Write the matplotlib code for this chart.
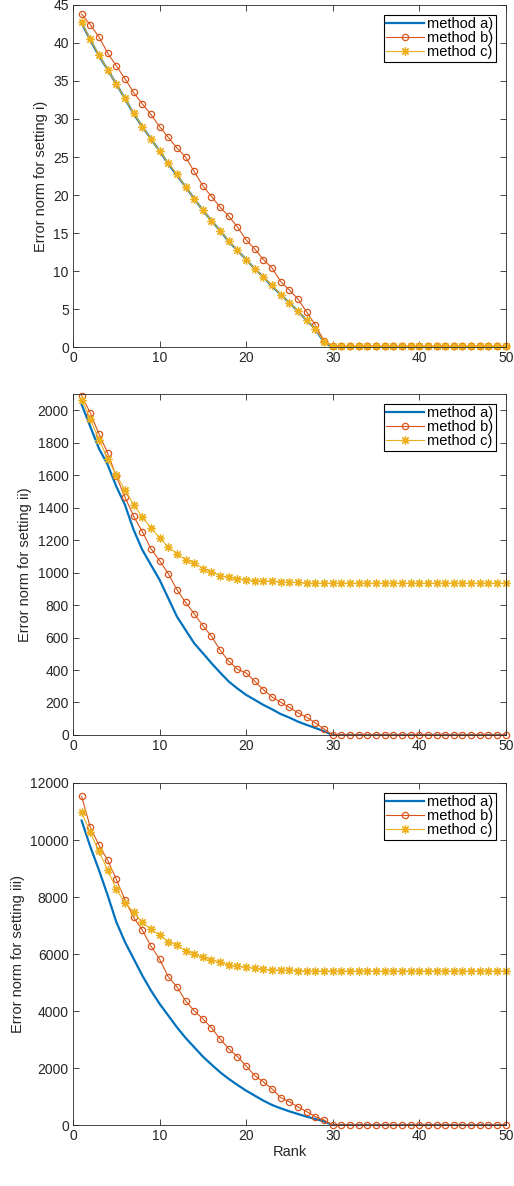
import numpy as np
import matplotlib as mpl
mpl.use('Agg')
import matplotlib.pyplot as plt

ranks = np.arange(1, 51)
tail = 21  # ranks 30..50

# setting i)
a1 = [42.6, 40.4, 38.3, 36.5, 34.6, 32.7, 30.7, 29.0, 27.4, 25.8,
      24.1, 22.6, 21.1, 19.5, 18.0, 16.6, 15.3, 13.9, 12.7, 11.5,
      10.3, 9.2, 8.0, 6.9, 5.8, 4.7, 3.5, 2.4, 0.6] + [0.0] * tail
b1 = [43.8, 42.4, 40.8, 38.7, 37.0, 35.3, 33.5, 32.0, 30.6, 29.0,
      27.6, 26.2, 25.0, 23.1, 21.2, 19.8, 18.4, 17.2, 15.8, 14.1,
      12.9, 11.5, 10.4, 8.6, 7.5, 6.3, 4.6, 2.9, 0.8] + [0.1] * tail
c1 = [42.7, 40.5, 38.4, 36.5, 34.6, 32.7, 30.8, 29.0, 27.4, 25.8,
      24.2, 22.7, 21.1, 19.5, 18.0, 16.6, 15.3, 14.0, 12.7, 11.5,
      10.3, 9.2, 8.1, 6.9, 5.8, 4.7, 3.5, 2.4, 0.66] + [0.1] * tail

# setting ii)
a2 = [2035, 1899, 1764, 1665, 1531, 1418, 1264, 1141, 1048, 956,
      843, 730, 647, 565, 504, 442, 384, 329, 286, 247,
      216, 185, 158, 129, 107, 82, 62, 43, 23] + [0] * tail
b2 = [2090, 1983, 1854, 1737, 1593, 1466, 1347, 1253, 1148, 1074,
      994, 895, 817, 747, 673, 608, 522, 454, 405, 382,
      331, 279, 234, 201, 170, 136, 109, 74, 37] + [0] * tail
c2 = [2066, 1947, 1819, 1702, 1600, 1511, 1419, 1343, 1275, 1214,
      1158, 1117, 1080, 1060, 1025, 1002, 982, 971, 963, 957,
      951, 947, 947, 940, 940, 940] + [934] * 24

# setting iii)
a3 = [10680, 9765, 8945, 8066, 7128, 6424, 5838, 5252, 4724, 4256,
      3845, 3435, 3060, 2731, 2403, 2122, 1852, 1618, 1407, 1207,
      1032, 856, 703, 586, 481, 387, 293, 211, 129] + [0] * tail
b3 = [11531, 10441, 9820, 9293, 8625, 7898, 7289, 6844, 6281, 5824,
      5203, 4852, 4359, 4008, 3727, 3410, 3023, 2672, 2402, 2074,
      1734, 1512, 1266, 961, 820, 633, 469, 293, 176] + [0] * tail
c3 = [10969, 10266, 9598, 8953, 8273, 7805, 7465, 7113, 6867, 6668,
      6434, 6316, 6117, 6000, 5883, 5789, 5719, 5602, 5566, 5531,
      5508, 5461, 5438, 5438, 5438, 5420] + [5402] * 24

labels = ['method a)', 'method b)', 'method c)']
ylabels = ['Error norm for setting i)', 'Error norm for setting ii)',
           'Error norm for setting iii)']
yticks = [np.arange(0, 46, 5), np.arange(0, 2001, 200), np.arange(0, 12001, 2000)]
ylims = [(0, 45), (0, 2100), (0, 12000)]
panels = [(a1, b1, c1), (a2, b2, c2), (a3, b3, c3)]

blue, orange, yellow = '#0072BD', '#D95319', '#EDB120'
grey = '#262626'

plt.rcParams['font.family'] = ['Liberation Sans', 'DejaVu Sans']
fig = plt.figure(figsize=(5.14, 11.86), dpi=100)
boxes = [(0.142, 0.7074, 0.842, 0.2884),
         (0.142, 0.3803, 0.842, 0.2875),
         (0.142, 0.0514, 0.842, 0.2884)]

for i, (a, b, c) in enumerate(panels):
    ax = fig.add_axes(boxes[i])
    ax.plot(ranks, a, color=blue, lw=1.6, label=labels[0])
    ax.plot(ranks, b, color=orange, lw=0.8, marker='o', ms=4.5, mfc='none',
            mew=0.9, label=labels[1], clip_on=False)
    ax.plot(ranks, c, color=yellow, lw=0.8, marker=(8, 2, 0), ms=6, mew=0.9,
            label=labels[2], clip_on=False)
    ax.set_xlim(0, 50)
    ax.set_ylim(*ylims[i])
    ax.set_xticks(np.arange(0, 51, 10))
    ax.set_yticks(yticks[i])
    ax.tick_params(direction='in', top=True, right=True, length=4,
                   width=0.6, colors=grey, labelsize=10, pad=3)
    for s in ax.spines.values():
        s.set_color(grey)
        s.set_linewidth(0.6)
    ax.set_ylabel(ylabels[i], fontsize=10.5, color=grey, labelpad=4)
    leg = ax.legend(loc='upper right', fontsize=10.5, fancybox=False,
                    edgecolor='black', framealpha=1, borderaxespad=0.7,
                    handlelength=2.6, labelspacing=0.0, borderpad=0.15,
                    handletextpad=0.2)
    leg.get_frame().set_linewidth(0.8)
    if i == 2:
        ax.set_xlabel('Rank', fontsize=10.5, color=grey, labelpad=1)

fig.savefig('out.png', dpi=100)
